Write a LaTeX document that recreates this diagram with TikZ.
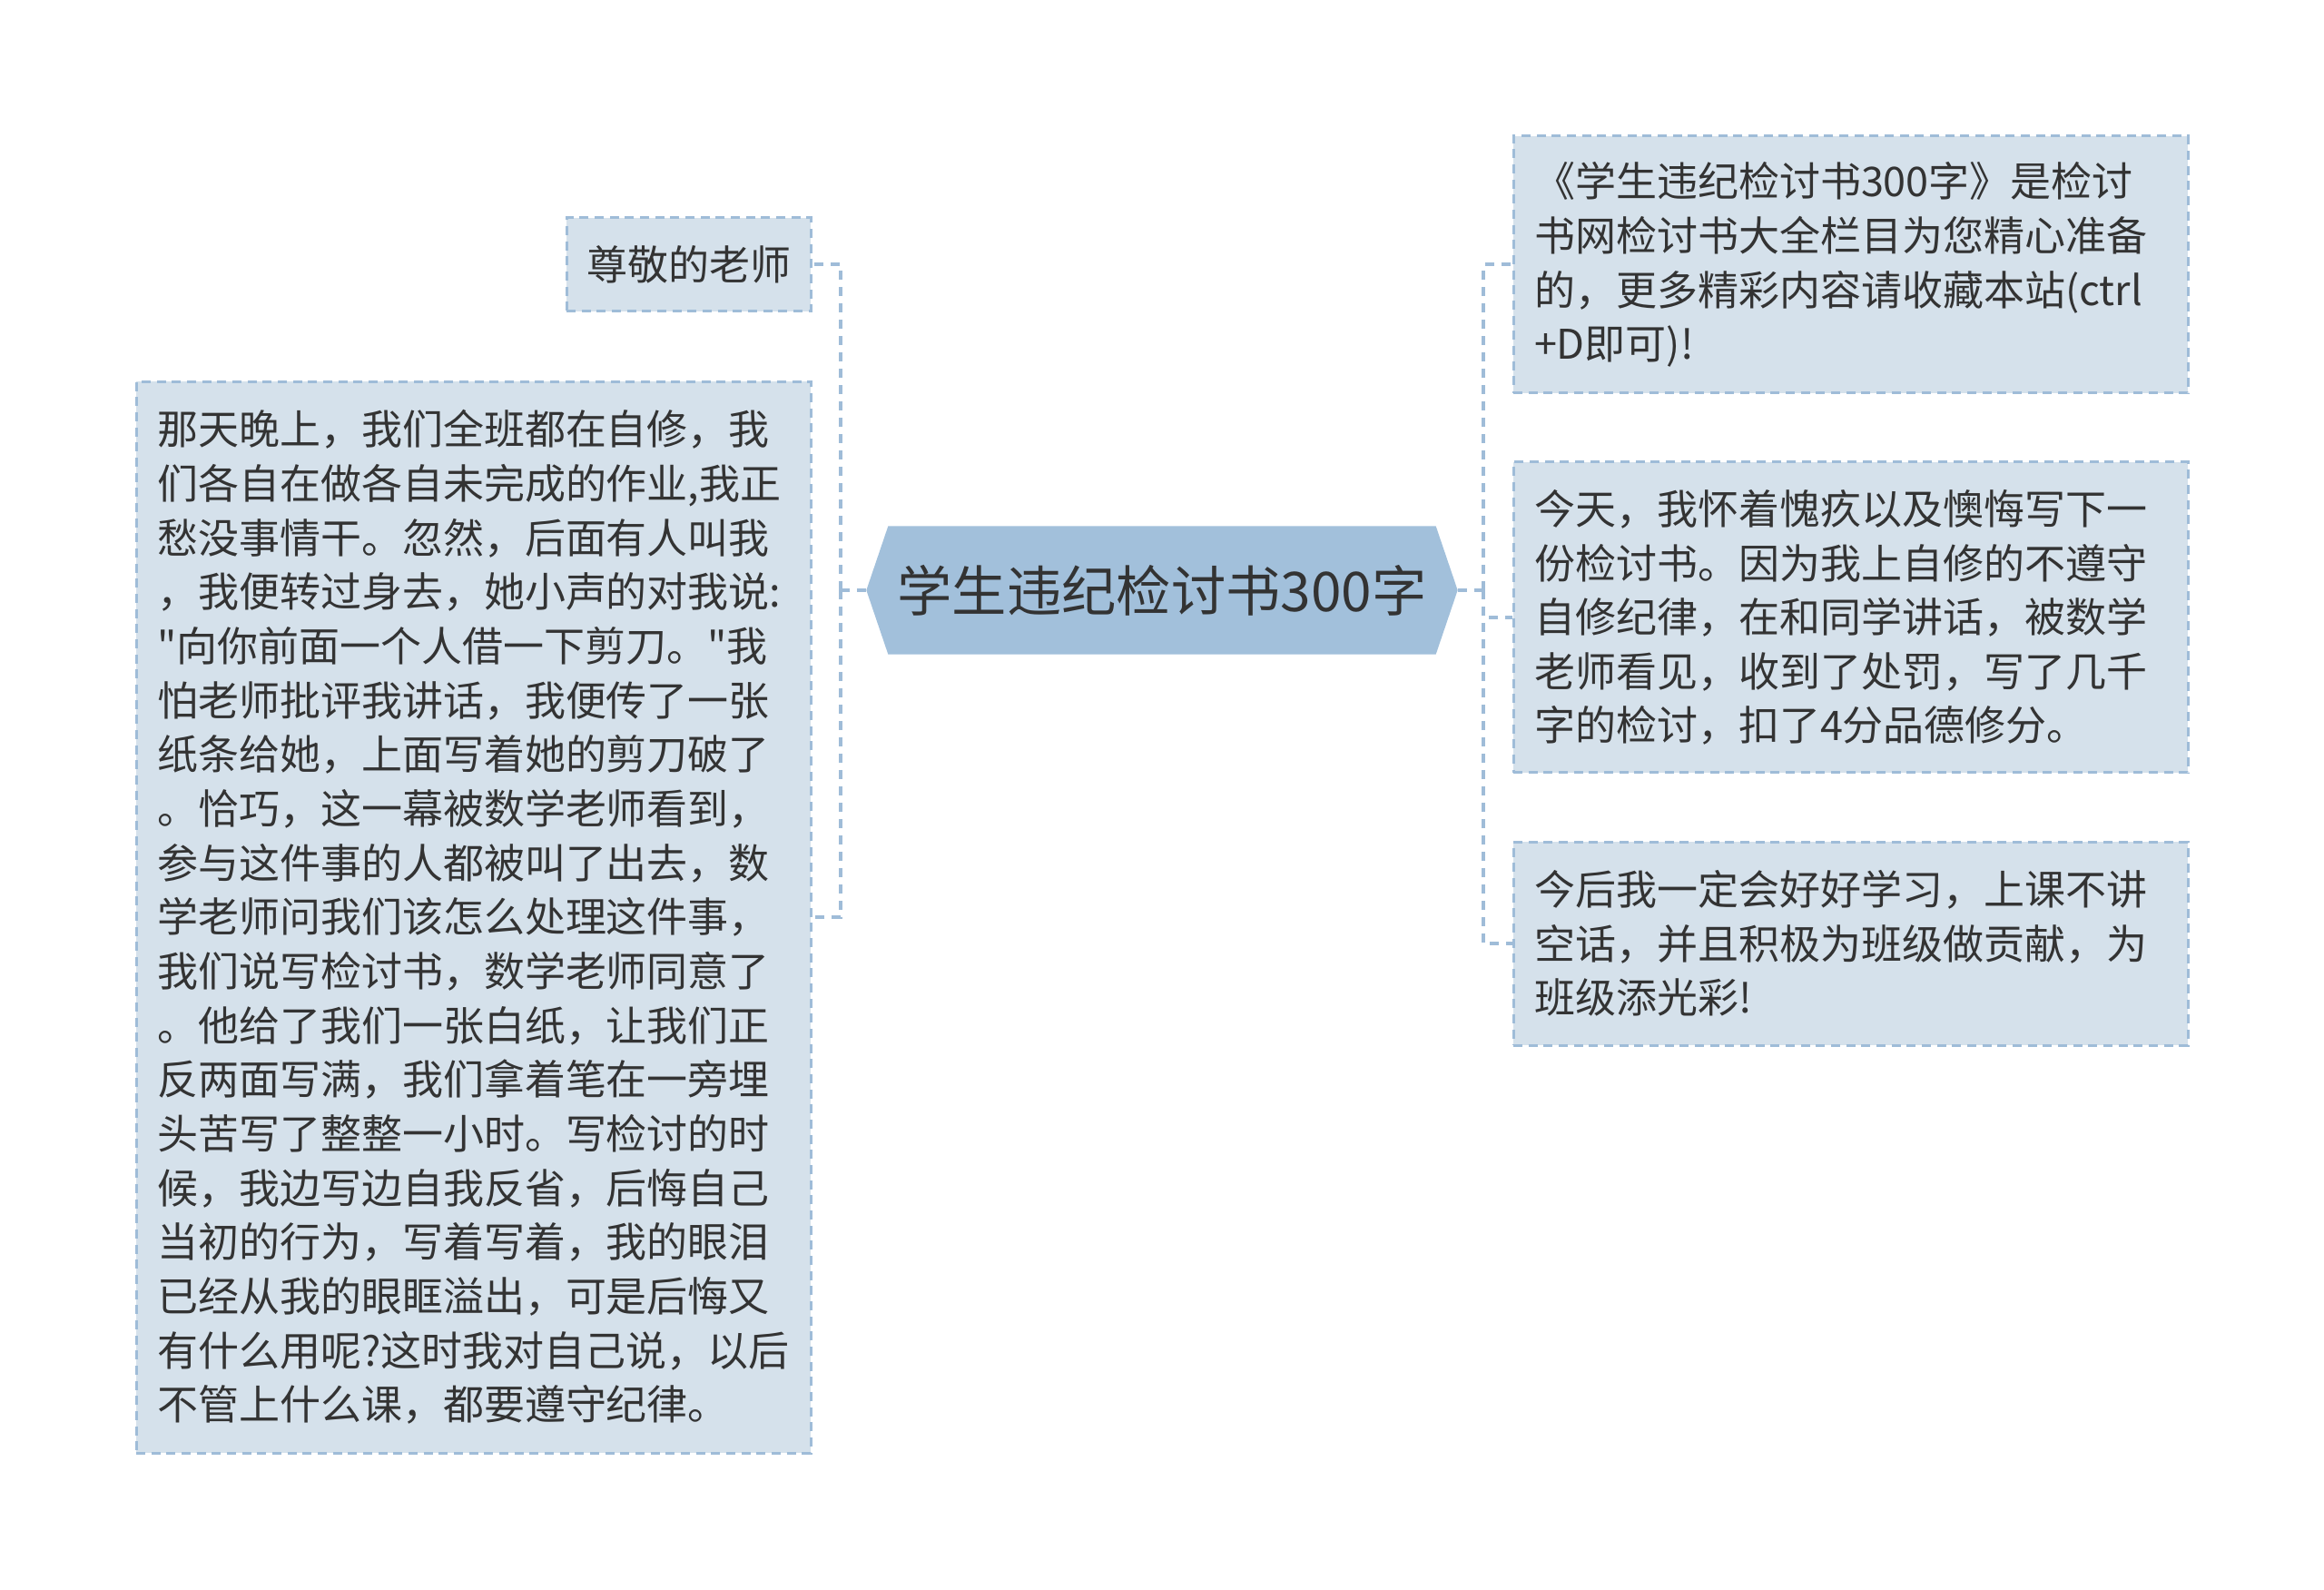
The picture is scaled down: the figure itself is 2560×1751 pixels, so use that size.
\documentclass[tikz,border=0pt]{standalone}
\usepackage{fontspec}
\newfontfamily\cjk{Noto Sans CJK SC}
\usetikzlibrary{backgrounds}
\definecolor{boxfill}{HTML}{D5E1EB}
\definecolor{boxline}{HTML}{9FBCD8}
\definecolor{rootfill}{HTML}{A2C0DB}
\definecolor{inkgrey}{HTML}{333333}
\tikzset{
	leaf/.style={rectangle, draw=boxline, fill=boxfill, line width=0.9pt,
		dash pattern=on 3pt off 2pt, inner sep=0pt, text=inkgrey,
		font=\cjk\fontsize{13.5}{17.9}\selectfont},
	para/.style={leaf, minimum width=222.9pt, text width=209.1pt, align=left},
	link/.style={draw=boxline, line width=1.2pt, dash pattern=on 3pt off 2.4pt},
}

\begin{document}
\begin{tikzpicture}[x=0.3pt, y=-0.3pt]
		\useasboundingbox (0,0) rectangle (2560,1751);
		\node (root) [minimum width=195pt, minimum height=42pt, inner sep=0pt,
		text=inkgrey, font=\cjk\fontsize{18.1}{22}\selectfont] at (1280,650) {学生违纪检讨书300字};
		\begin{scope}[on background layer]
		\fill[rootfill] (root.west) -- ([xshift=7.2pt]root.north west)
		  -- ([xshift=-7.2pt]root.north east) -- (root.east)
		  -- ([xshift=-7.2pt]root.south east) -- ([xshift=7.2pt]root.south west) -- cycle;
		\end{scope}
		\node (teacher) [leaf, minimum width=80.7pt, minimum height=30.9pt] at (758.5,291.5) {尊敬的老师};
		\node (story) [para, minimum height=354pt] at (521.5,1010) {那天晚上，我们全班都在自修，我\\
		们各自在做各自未完成的作业,我正\\
		愁没事情干。忽然，后面有人叫我\\
		，我便转过身去，她小声的对我说:\\
		"向你前面一个人借一下剪刀。"我\\
		怕老师批评我讲话，我便传了一张\\
		纸条给她，上面写着她的剪刀破了\\
		。恰巧，这一幕被数学老师看到，\\
		参与这件事的人都被叫了出去，数\\
		学老师问我们该怎么处理这件事，\\
		我们说写检讨书，数学老师同意了\\
		。他给了我们一张白纸，让我们正\\
		反两面写满，我们拿着笔在一旁埋\\
		头苦写了整整一小时。写检讨的时\\
		候，我边写边自我反省，后悔自己\\
		当初的行为，写着写着，我的眼泪\\
		已经从我的眼眶溢出，可是后悔又\\
		有什么用呢?这时我对自己说，以后\\
		不管上什么课，都要遵守纪律。};
		\node (intro) [para, minimum height=84.9pt] at (2038.5,291.5) {《学生违纪检讨书300字》是检讨\\
		书网检讨书大全栏目为您精心准备\\
		的，更多精彩内容请收藏本站(ctrl\\
		+D即可)!};
		\node (today) [para, minimum height=102.6pt] at (2038.5,680) {今天，我怀着愧疚以及懊悔写下一\\
		份检讨书。因为我上自修的不遵守\\
		自修纪律，在和同学讲话，被数学\\
		老师看见，收到了处罚，写了几千\\
		字的检讨，扣了4分品德修分。};
		\node (future) [para, minimum height=67.2pt] at (2038.5,1039) {今后我一定会好好学习，上课不讲\\
		空话，并且积极为班级做贡献，为\\
		班级添光彩!};
		\coordinate (ltrunk) at (926,650);
		\coordinate (rtrunk) at (1634,650);
		\draw[link] (root.west) -- (ltrunk);
		\draw[link] (ltrunk) |- (teacher.east);
		\draw[link] (ltrunk) |- (story.east);
		\draw[link] (root.east) -- (rtrunk);
		\draw[link] (rtrunk) |- (intro.west);
		\draw[link] (rtrunk) |- (today.west);
		\draw[link] (rtrunk) |- (future.west);
\end{tikzpicture}
\end{document}
